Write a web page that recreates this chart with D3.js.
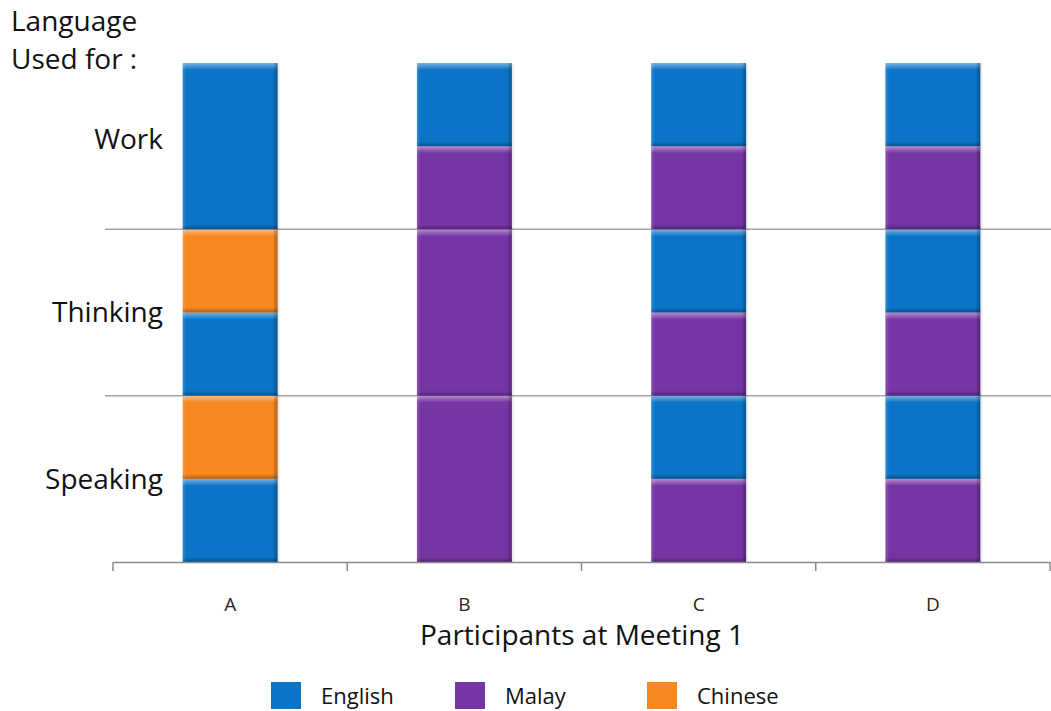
<!DOCTYPE html>
<html>
<head>
<meta charset="utf-8">
<script src="https://cdn.jsdelivr.net/npm/d3@7"></script>
<style>
  body { margin: 0; background: #fff; }
  svg { font-family: "Open Sans", Lato, sans-serif; }
</style>
</head>
<body>
<div class="chart"></div>
<script>
let width = 1051;
let height = 711;

// participants and their language blocks, bottom to top (units of half a category)
let participants = ['A', 'B', 'C', 'D'];
let blocksA = [['English', 1], ['Chinese', 1], ['English', 1], ['Chinese', 1], ['English', 2]];
let blocksB = [['Malay', 2], ['Malay', 2], ['Malay', 1], ['English', 1]];
let blocksC = [['Malay', 1], ['English', 1], ['Malay', 1], ['English', 1], ['Malay', 1], ['English', 1]];
let blocksD = [['Malay', 1], ['English', 1], ['Malay', 1], ['English', 1], ['Malay', 1], ['English', 1]];
let usages = ['Speaking', 'Thinking', 'Work'];
let usagePos = [1, 3, 5.08];
let gridValues = [2, 4];
let languages = ['English', 'Malay', 'Chinese'];
let colors = ['#0a74c6', '#7634a4', '#f7871f'];

let allBlocks = [blocksA, blocksB, blocksC, blocksD];

let svg = d3.select('.chart')
            .append('svg')
            .attr('width', width)
            .attr('height', height);

let defs = svg.append('defs');
let g1 = defs.append('linearGradient').attr('id', 'topHi').attr('x1', 0).attr('y1', 0).attr('x2', 0).attr('y2', 1);
g1.append('stop').attr('offset', '0%').attr('stop-color', '#fff').attr('stop-opacity', 0.45);
g1.append('stop').attr('offset', '100%').attr('stop-color', '#fff').attr('stop-opacity', 0);
let g2 = defs.append('linearGradient').attr('id', 'botSh').attr('x1', 0).attr('y1', 0).attr('x2', 0).attr('y2', 1);
g2.append('stop').attr('offset', '0%').attr('stop-color', '#000').attr('stop-opacity', 0);
g2.append('stop').attr('offset', '100%').attr('stop-color', '#000').attr('stop-opacity', 0.3);
let g3 = defs.append('linearGradient').attr('id', 'rightSh').attr('x1', 0).attr('y1', 0).attr('x2', 1).attr('y2', 0);
g3.append('stop').attr('offset', '0%').attr('stop-color', '#000').attr('stop-opacity', 0);
g3.append('stop').attr('offset', '100%').attr('stop-color', '#000').attr('stop-opacity', 0.28);
let g4 = defs.append('linearGradient').attr('id', 'leftHi').attr('x1', 0).attr('y1', 0).attr('x2', 1).attr('y2', 0);
g4.append('stop').attr('offset', '0%').attr('stop-color', '#fff').attr('stop-opacity', 0.15);
g4.append('stop').attr('offset', '100%').attr('stop-color', '#fff').attr('stop-opacity', 0);

let xScale = d3.scaleBand().domain(participants).range([113, 1050]);
let yScale = d3.scaleLinear().domain([0, 6]).range([562, 63]);
let color = d3.scaleOrdinal().domain(languages).range(colors);
let barWidth = xScale.step() * 0.405;

// gridlines
svg.selectAll('.grid')
   .data(gridValues)
   .enter()
   .append('line')
   .attr('x1', 105)
   .attr('x2', width)
   .attr('y1', d => yScale(d))
   .attr('y2', d => yScale(d))
   .attr('stroke', '#a6a6a6')
   .attr('stroke-width', 1.5);

// bars
participants.forEach((p, i) => {
  let base = 0;
  let segs = allBlocks[i].map(b => {
    let s = {lang: b[0], y0: base, y1: base + b[1]};
    base += b[1];
    return s;
  });
  let x = xScale(p) + xScale.bandwidth() / 2 - barWidth / 2;
  let bar = svg.append('g').attr('class', 'bar');
  // faint shadow
  bar.append('rect')
     .attr('x', x + 2)
     .attr('y', yScale(base) + 1)
     .attr('width', barWidth)
     .attr('height', yScale(0) - yScale(base))
     .attr('fill', '#000')
     .attr('opacity', 0.08);
  segs.forEach(s => {
    let y = yScale(s.y1);
    let h = yScale(s.y0) - yScale(s.y1);
    bar.append('rect').attr('x', x).attr('y', y).attr('width', barWidth).attr('height', h)
       .attr('fill', color(s.lang));
    bar.append('rect').attr('x', x).attr('y', y).attr('width', barWidth).attr('height', 7)
       .attr('fill', 'url(#topHi)');
    bar.append('rect').attr('x', x).attr('y', y + h - 5).attr('width', barWidth).attr('height', 5)
       .attr('fill', 'url(#botSh)');
    bar.append('rect').attr('x', x + barWidth - 5).attr('y', y).attr('width', 5).attr('height', h)
       .attr('fill', 'url(#rightSh)');
    bar.append('rect').attr('x', x).attr('y', y).attr('width', 4).attr('height', h)
       .attr('fill', 'url(#leftHi)');
  });
});

// x axis
let xAxis = d3.axisBottom(xScale).tickSize(0).tickPadding(36);
let xg = svg.append('g')
   .attr('transform', 'translate(0,' + yScale(0) + ')')
   .call(xAxis);
xg.select('.domain').attr('stroke', '#8c8c8c').attr('stroke-width', 1.5);
xg.selectAll('.tick text').attr('font-size', 19).attr('fill', '#262626')
  .attr('font-family', '"Open Sans", Lato, sans-serif');
svg.selectAll('.xtick')
   .data(participants.concat(['end']))
   .enter()
   .append('line')
   .attr('x1', (d, i) => 113 + i * xScale.step())
   .attr('x2', (d, i) => 113 + i * xScale.step())
   .attr('y1', yScale(0))
   .attr('y2', yScale(0) + 9)
   .attr('stroke', '#8c8c8c')
   .attr('stroke-width', 1.5);

// usage labels
svg.selectAll('.usage')
   .data(usages)
   .enter()
   .append('text')
   .attr('x', 163)
   .attr('y', (d, i) => yScale(usagePos[i]))
   .attr('dy', '0.35em')
   .attr('text-anchor', 'end')
   .attr('font-size', 28)
   .attr('fill', '#111')
   .text(d => d);

svg.append('text').attr('x', 11).attr('y', 31).attr('font-size', 28).attr('fill', '#111').text('Language');
svg.append('text').attr('x', 11).attr('y', 69).attr('font-size', 28).attr('fill', '#111').text('Used for :');

svg.append('text')
   .attr('x', 582)
   .attr('y', 645)
   .attr('text-anchor', 'middle')
   .attr('font-size', 28)
   .attr('fill', '#111')
   .text('Participants at Meeting 1');

// legend
let legendX = [271, 455, 647];
let legend = svg.selectAll('.legend')
   .data(languages)
   .enter()
   .append('g')
   .attr('transform', (d, i) => 'translate(' + legendX[i] + ',682)');
legend.append('rect').attr('width', 30).attr('height', 27).attr('fill', d => color(d));
legend.append('text').attr('x', 50).attr('y', 22).attr('font-size', 22).attr('fill', '#111').text(d => d);
</script>
</body>
</html>
